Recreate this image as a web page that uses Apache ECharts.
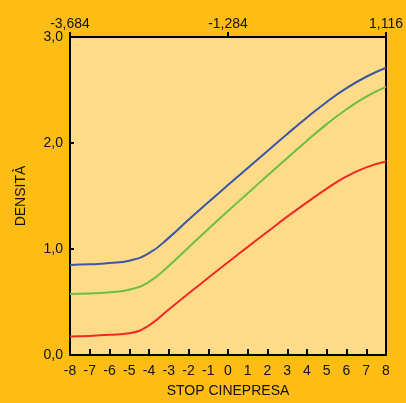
<!DOCTYPE html>
<html>
<head>
<meta charset="utf-8">
<script src="https://cdn.jsdelivr.net/npm/echarts@6/dist/echarts.min.js"></script>
<style>html,body{margin:0;padding:0;background:#FDBD15;}#c{width:406px;height:403px;}</style>
</head>
<body>
<div id="c"></div>
<script>
const stops = [-8,-7,-6,-5,-4,-3,-2,-1,0,1,2,3,4,5,6,7,8];
const blue  = [0.85,0.855,0.867,0.89,0.96,1.105,1.275,1.44,1.603,1.765,1.925,2.085,2.24,2.387,2.517,2.625,2.71];
const green = [0.575,0.58,0.592,0.615,0.69,0.84,1.015,1.188,1.358,1.526,1.693,1.858,2.022,2.178,2.318,2.438,2.53];
const red   = [0.175,0.18,0.19,0.205,0.28,0.43,0.58,0.728,0.875,1.02,1.163,1.305,1.44,1.57,1.685,1.77,1.825];
const topLabels = {'-8':'-3,684','0':'-1,284','8':'1,116'};

const font = 'Liberation Sans, Arial, Helvetica, sans-serif';
const pairs = arr => stops.map((s,i)=>[s,arr[i]]);
const chart = echarts.init(document.getElementById('c'));
chart.setOption({
  backgroundColor:'#FDBD15',
  animation:false,
  grid:{left:70,right:18,top:37,bottom:47,show:true,backgroundColor:'#FEDB89',borderColor:'#000',borderWidth:2},
  xAxis:[{
    type:'value',min:-8,max:8,interval:1,position:'bottom',
    name:'STOP CINEPRESA',nameLocation:'middle',nameGap:29,
    nameTextStyle:{fontFamily:font,fontSize:14,color:'#111'},
    axisLine:{show:true,onZero:false,lineStyle:{color:'#000',width:2}},
    axisTick:{show:true,inside:true,length:6,lineStyle:{color:'#000',width:2}},
    axisLabel:{fontFamily:font,fontSize:14,color:'#111',margin:9},
    splitLine:{show:false}
  },{
    type:'value',min:-8,max:8,interval:8,position:'top',
    axisLine:{show:true,onZero:false,lineStyle:{color:'#000',width:2}},
    axisTick:{show:true,inside:false,length:5,lineStyle:{color:'#000',width:2}},
    axisLabel:{fontFamily:font,fontSize:14,color:'#111',margin:6,formatter:v=>topLabels[String(v)]||''},
    splitLine:{show:false}
  }],
  yAxis:{
    type:'value',min:0,max:3,interval:1,
    name:'DENSITÀ',nameLocation:'middle',nameGap:42,
    nameTextStyle:{fontFamily:font,fontSize:14,color:'#111'},
    axisLine:{show:true,onZero:false,lineStyle:{color:'#000',width:2}},
    axisTick:{show:true,inside:true,length:4,lineStyle:{color:'#000',width:2}},
    axisLabel:{fontFamily:font,fontSize:14,color:'#111',margin:7,formatter:v=>v.toFixed(1).replace('.',',')},
    splitLine:{show:false}
  },
  series:[
    {type:'line',data:pairs(blue),smooth:true,symbol:'none',lineStyle:{color:'#3A56A6',width:2}},
    {type:'line',data:pairs(green),smooth:true,symbol:'none',lineStyle:{color:'#6CBD45',width:2}},
    {type:'line',data:pairs(red),smooth:true,symbol:'none',lineStyle:{color:'#EE2B24',width:2}}
  ]
});
</script>
</body>
</html>
